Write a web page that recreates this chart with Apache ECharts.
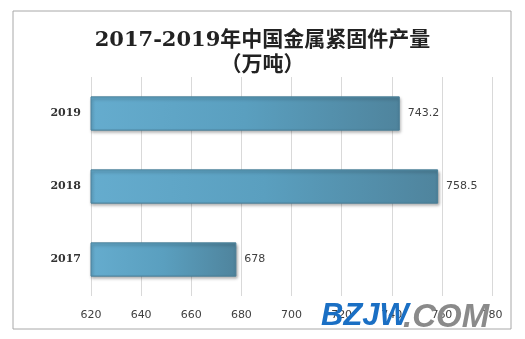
<!DOCTYPE html>
<html><head><meta charset="utf-8">
<script src="https://cdn.jsdelivr.net/npm/echarts@6/dist/echarts.min.js"></script>
<style>html,body{margin:0;padding:0;background:#fff}#c{width:525px;height:339px}</style>
</head><body><div id="c"></div>
<script>
const categories = ['2017', '2018', '2019'];
const values = [678, 758.5, 743.2];
const xTicks = [620, 640, 660, 680, 700, 720, 740, 760, 780];

const chart = echarts.init(document.getElementById('c'));
chart.setOption({
  backgroundColor: '#fff',
  animation: false,
  title: {
    text: '2017-2019年中国金属紧固件产量\n（万吨）',
    left: 'center', top: 23,
    textStyle: { fontFamily: 'DejaVu Serif, Noto Sans CJK SC', fontWeight: 'bold', fontSize: 21, color: '#222', lineHeight: 25 }
  },
  graphic: [
    { type: 'rect', shape: { x: 13, y: 11, width: 498, height: 318 }, style: { fill: 'none', stroke: '#a8a8a8', lineWidth: 1 }, z: -1 },
    { type: 'text', left: 321, top: 301, style: { text: 'BZJW', fill: '#1a6fc4', font: 'italic bold 31px Liberation Sans' }, z: 100 },
    { type: 'text', left: 403, top: 301, style: { text: '.COM', fill: '#8a8a8a', font: 'italic bold 33px Liberation Sans' }, z: 100 }
  ],
  grid: { left: 91, right: 33, top: 77, bottom: 43 },
  xAxis: {
    type: 'value', min: 620, max: 780, interval: 20,
    axisLine: { show: false }, axisTick: { show: false },
    splitLine: { lineStyle: { color: '#d9d9d9' } },
    axisLabel: { color: '#404040', fontSize: 11, margin: 14, fontFamily: 'DejaVu Sans',
      formatter: v => xTicks.includes(v) ? String(v) : '' }
  },
  yAxis: {
    type: 'category', data: categories,
    axisLine: { show: false }, axisTick: { show: false },
    axisLabel: { color: '#333', fontSize: 11, fontWeight: 'bold', margin: 10, fontFamily: 'DejaVu Serif' }
  },
  series: [{
    type: 'bar', data: values, barWidth: '47%',
    itemStyle: {
      color: new echarts.graphic.LinearGradient(0, 0, 1, 0, [
        { offset: 0, color: '#65acce' },
        { offset: 0.5, color: '#5a9fbf' },
        { offset: 1, color: '#4f849d' }
      ]),
      borderColor: '#4a7f98', borderWidth: 1,
      shadowColor: 'rgba(0,0,0,0.35)', shadowBlur: 3, shadowOffsetX: 1, shadowOffsetY: 2
    },
    label: { show: true, position: 'right', distance: 8, color: '#404040', fontSize: 11, fontFamily: 'DejaVu Sans' }
  }]
});
</script></body></html>
